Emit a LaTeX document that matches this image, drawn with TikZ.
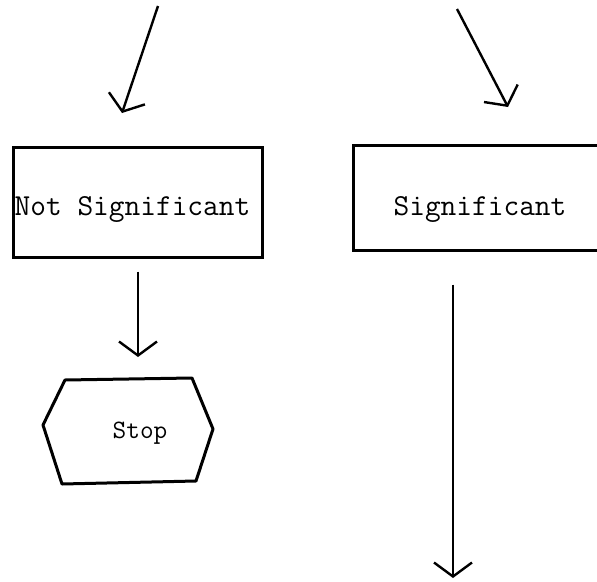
\documentclass[tikz,border=0pt]{standalone}
\usepackage{fontspec}
\usetikzlibrary{arrows.meta}
\begin{document}
\begin{tikzpicture}[x=1pt,y=-1pt,
  box/.style={draw,line width=3pt,minimum width=250pt,minimum height=106pt,inner sep=0pt,
              text depth=0pt,font=\ttfamily\fontsize{30.5}{30.5}\selectfont},
  flow/.style={line width=2.4pt,-{Straight Barb[length=14pt,width=38pt,line width=2.4pt]}},
  stoptext/.style={inner sep=0pt,font=\ttfamily\fontsize{26.5}{26.5}\selectfont}]
\useasboundingbox (0,0) rectangle (597,581);
\begin{scope}
\clip (0,0) rectangle (597,581);

% decision outcomes
\node[box,minimum width=249pt,minimum height=110pt,text height=26pt] (ns)
  at (137.5,202) {\hspace*{-10pt}Not Significant};
\node[box,minimum width=254pt,minimum height=105pt,text height=35pt] (sig)
  at (480,197.5) {Significant};

% incoming connectors from above
\coordinate (inL) at (158,6);
\coordinate (tipL) at (122,113);
\coordinate (inR) at (457,9);
\coordinate (tipR) at (508,107);
\draw[flow] (inL) -- (tipL);
\draw[flow] (inR) -- (tipR);

% terminator
\node[stoptext] (stop) at (140,433) {Stop};
\draw[line width=3pt,line join=round]
  ([shift={(-75,-53)}]stop.center) -- ([shift={(52,-55)}]stop.center)
  -- ([shift={(73,-4)}]stop.center) -- ([shift={(56,48)}]stop.center)
  -- ([shift={(-78,51)}]stop.center) -- ([shift={(-97,-8)}]stop.center) -- cycle;

% outgoing connectors
\coordinate (stopTip) at (138,357);
\draw[flow] ([shift={(0.5pt,-13pt)}]ns.south) -- (stopTip);
\coordinate (outR) at (453,578);
\draw[flow] ([shift={(-27pt,-33pt)}]sig.south) -- (outR);
\end{scope}
\end{tikzpicture}
\end{document}
